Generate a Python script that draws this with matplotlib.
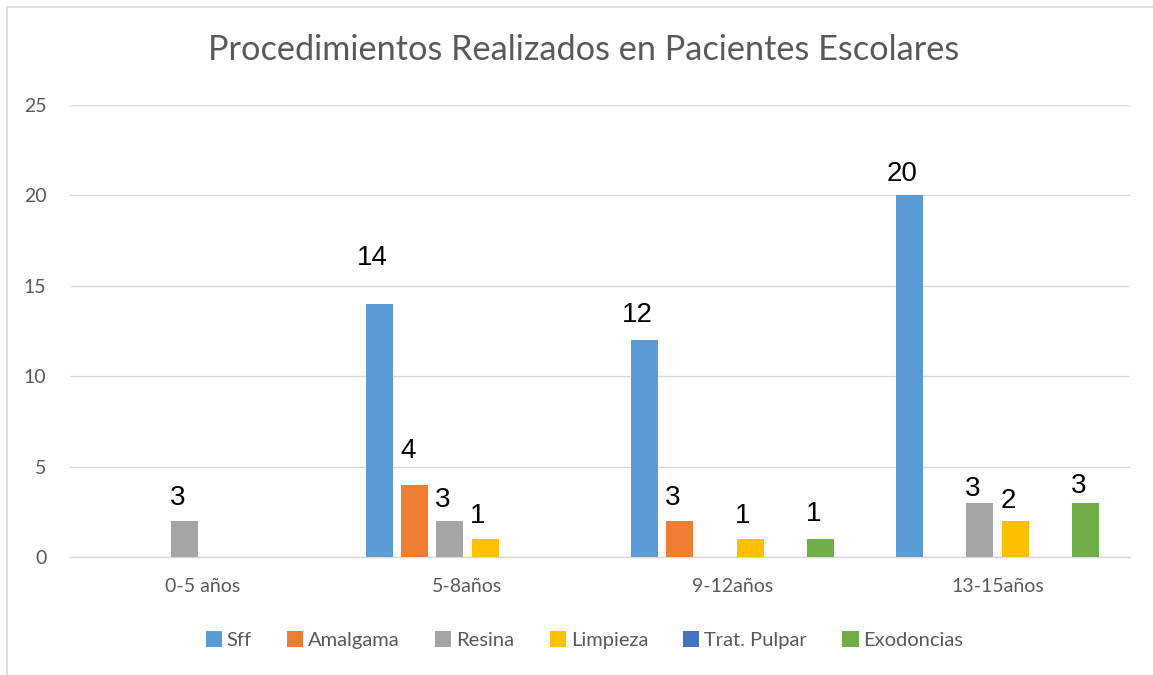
import matplotlib.pyplot as plt
from matplotlib.patches import Rectangle
import numpy as np

# ---------------- data ----------------
categories = ['0-5 años', '5-8años', '9-12años', '13-15años']
series = ['Sff', 'Amalgama', 'Resina', 'Limpieza', 'Trat. Pulpar', 'Exodoncias']
colors = ['#5B9BD5', '#ED7D31', '#A5A5A5', '#FFC000', '#4472C4', '#70AD47']

# bar heights as drawn
sff = [0, 14, 12, 20]
amalgama = [0, 4, 2, 0]
resina = [2, 2, 0, 3]
limpieza = [0, 1, 1, 2]
trat_pulpar = [0, 0, 0, 0]
exodoncias = [0, 0, 1, 3]

# data labels as printed on the chart (None = no label)
sff_lbl = [None, 14, 12, 20]
amalgama_lbl = [None, 4, 3, None]
resina_lbl = [3, 3, None, 3]
limpieza_lbl = [None, 1, 1, 2]
trat_pulpar_lbl = [None, None, None, None]
exodoncias_lbl = [None, None, 1, 3]

values = [sff, amalgama, resina, limpieza, trat_pulpar, exodoncias]
labels = [sff_lbl, amalgama_lbl, resina_lbl, limpieza_lbl, trat_pulpar_lbl, exodoncias_lbl]

# label lift above bar top, in pixels (layout only)
lift = [[22, 46, 25, 21],
        [22, 34, 23, 22],
        [23, 21, 22, 14],
        [22, 23, 23, 20],
        [22, 22, 22, 22],
        [22, 22, 25, 17]]

fig = plt.figure(figsize=(11.53, 6.75), dpi=100)
ax = fig.add_axes([70 / 1153, 118 / 675, 1060 / 1153, 452 / 675])

# chart border
fig.patches.append(Rectangle((7 / 1153, -0.01), 1.1, 1 - 7 / 675 + 0.01, transform=fig.transFigure,
                             fill=False, edgecolor='#D9D9D9', linewidth=1.2))

x = np.arange(len(categories))
pitch = 0.133
width = 0.102

for i, (name, vals) in enumerate(zip(series, values)):
    pos = x + (i - 2.5) * pitch
    ax.bar(pos, vals, width=width, color=colors[i], label=name, zorder=3)
    for j, lab in enumerate(labels[i]):
        if lab is None:
            continue
        ax.annotate(str(lab), (pos[j], vals[j]), xytext=(-7, lift[i][j]), textcoords='offset pixels',
                    ha='center', va='center', fontsize=20, family='Liberation Sans', color='black')

ax.set_xlim(-0.5, 3.5)
ax.set_ylim(0, 25)
ax.set_yticks([0, 5, 10, 15, 20, 25])
ax.set_xticks(x)
ax.set_xticklabels(categories)
ax.tick_params(axis='both', length=0, labelsize=14, labelcolor='#595959')
ax.tick_params(axis='x', pad=15)
ax.tick_params(axis='y', pad=17)
for lbl in ax.get_xticklabels() + ax.get_yticklabels():
    lbl.set_family('Lato')

ax.grid(axis='y', color='#D9D9D9', linewidth=1.0, zorder=0)
for s in ['top', 'right', 'left']:
    ax.spines[s].set_visible(False)
ax.spines['bottom'].set_color('#D9D9D9')
ax.spines['bottom'].set_linewidth(1.0)

fig.text(0.506, 1 - 50 / 675, 'Procedimientos Realizados en Pacientes Escolares', ha='center', va='center',
         fontsize=24.7, family='Lato', color='#595959')

fig.legend(loc='center', bbox_to_anchor=(0.507, 1 - 640 / 675), ncol=6, frameon=False,
           prop={'family': 'Lato', 'size': 14.5}, labelcolor='#595959', handlelength=0.8, handleheight=0.8,
           handletextpad=0.25, columnspacing=1.75)

plt.savefig('out.png', dpi=100)
